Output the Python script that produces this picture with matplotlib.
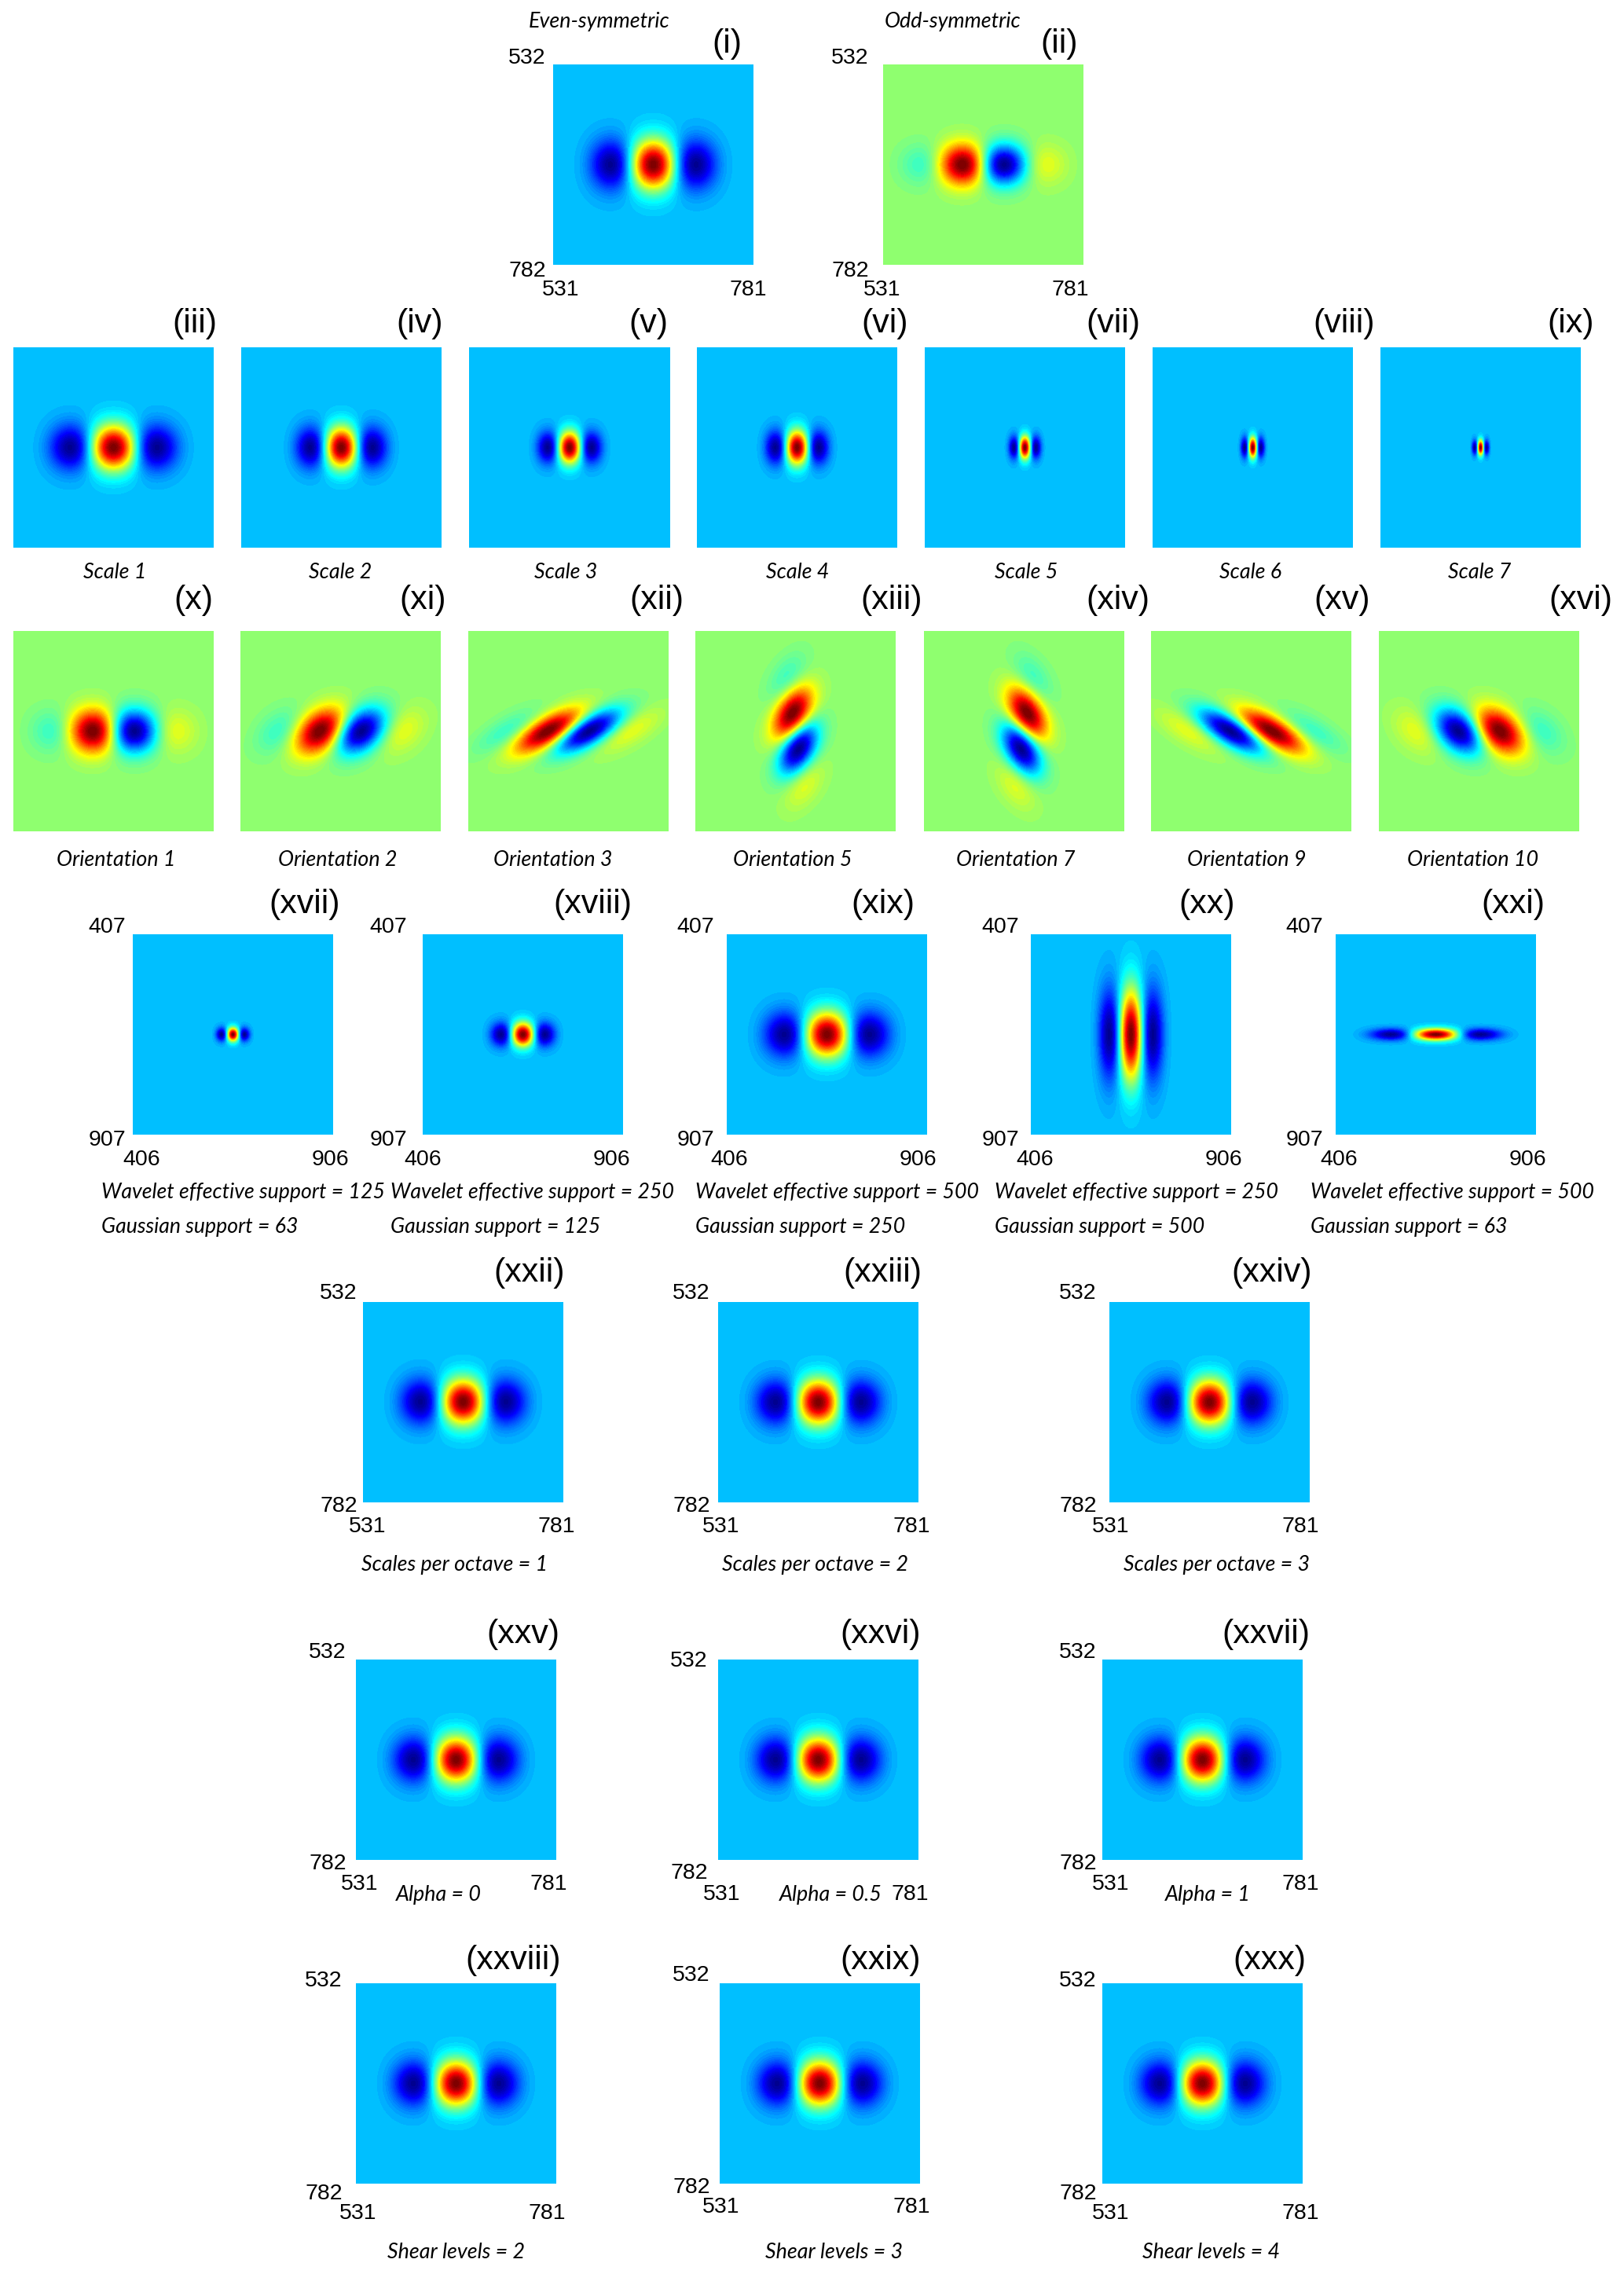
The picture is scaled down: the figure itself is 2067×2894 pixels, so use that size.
import numpy as np
import matplotlib
matplotlib.use('Agg')
import matplotlib.pyplot as plt
from matplotlib.colors import ListedColormap

W, H = 2067, 2894
SIZE = 255  # lado do painel em pixels

# -- valores, painel a painel --
panel_names = ['(i)', '(ii)', '(iii)', '(iv)', '(v)', '(vi)', '(vii)', '(viii)', '(ix)',
               '(x)', '(xi)', '(xii)', '(xiii)', '(xiv)', '(xv)', '(xvi)',
               '(xvii)', '(xviii)', '(xix)', '(xx)', '(xxi)',
               '(xxii)', '(xxiii)', '(xxiv)', '(xxv)', '(xxvi)', '(xxvii)',
               '(xxviii)', '(xxix)', '(xxx)']

# tipo: e = par, o = impar
kinds = ['e', 'o'] + ['e'] * 7 + ['o'] * 7 + ['e'] * 14
# periodo da onda nos paineis impares (pixels do painel)
periods = [0, 130, 0, 0, 0, 0, 0, 0, 0,
           130, 130, 130, 130, 130, 130, 130,
           0, 0, 0, 0, 0, 0, 0, 0, 0, 0, 0, 0, 0, 0]
# largura na direcao da onda (nos pares: distancia do centro ao zero)
sig_u = [32.5, 44, 33, 23.7, 16.7, 16.5, 8.4, 6.2, 4.5,
         44, 44, 44, 40, 40, 44, 44,
         8.7, 16.7, 32.5, 16.7, 34,
         32.5, 32.5, 32.5, 32.5, 32.5, 32.5, 32.5, 32.5, 32.5]
# largura na outra direcao
sig_v = [22, 18, 20, 18, 14, 15, 10, 9, 6.5,
         19, 20, 19, 18, 18, 19, 20,
         6, 10.5, 20, 40, 5.2,
         20, 20, 20, 20, 20, 20, 20, 20, 20]
# inclinacao (shear), eixo da onda, sinal
shears = [0, 0, 0, 0, 0, 0, 0, 0, 0,
          0, 0.4, 1.05, 0.8, -0.8, -1.05, -0.4,
          0, 0, 0, 0, 0, 0, 0, 0, 0, 0, 0, 0, 0, 0]
axes_dir = ['x'] * 12 + ['y', 'y'] + ['x'] * 16
signs = [1, -1] + [1] * 7 + [-1, -1, -1, 1, 1, 1, 1] + [1] * 14

# canto superior esquerdo de cada painel
left = [704, 1124,
        17, 307, 597, 887, 1177, 1467, 1757,
        17, 306, 596, 885, 1176, 1465, 1755,
        169, 538, 925, 1312, 1700,
        462, 914, 1412,
        453, 914, 1403,
        453, 916, 1403]
top = [82] * 2 + [442] * 7 + [803] * 7 + [1189] * 5 + [1657] * 3 + [2112] * 3 + [2524] * 3

# legendas: texto e centro em pixels da figura
captions = [('Even-symmetric', 763, 28), ('Odd-symmetric', 1213, 28),
            ('Scale 1', 146, 728), ('Scale 2', 433, 728), ('Scale 3', 720, 728),
            ('Scale 4', 1015, 728), ('Scale 5', 1306, 728), ('Scale 6', 1592, 728),
            ('Scale 7', 1883, 728),
            ('Orientation 1', 148, 1095), ('Orientation 2', 430, 1095),
            ('Orientation 3', 704, 1095), ('Orientation 5', 1009, 1095),
            ('Orientation 7', 1293, 1095), ('Orientation 9', 1587, 1095),
            ('Orientation 10', 1875, 1095),
            ('Scales per octave = 1', 579, 1992), ('Scales per octave = 2', 1038, 1992),
            ('Scales per octave = 3', 1549, 1992),
            ('Alpha = 0', 558, 2411), ('Alpha = 0.5', 1057, 2411), ('Alpha = 1', 1537, 2411),
            ('Shear levels = 2', 581, 2867), ('Shear levels = 3', 1062, 2867),
            ('Shear levels = 4', 1542, 2867)]
captions_left = [('Wavelet effective support = 125', 129, 1518), ('Gaussian support = 63', 129, 1562),
                 ('Wavelet effective support = 250', 497, 1518), ('Gaussian support = 125', 497, 1562),
                 ('Wavelet effective support = 500', 885, 1518), ('Gaussian support = 250', 885, 1562),
                 ('Wavelet effective support = 250', 1266, 1518), ('Gaussian support = 500', 1266, 1562),
                 ('Wavelet effective support = 500', 1668, 1518), ('Gaussian support = 63', 1668, 1562)]

# numeros dos cantos: (texto, x, y) em pixels
corner_labels = [
    ('532', 671, 74), ('782', 671, 345), ('531', 714, 369), ('781', 952, 369),
    ('532', 1082, 74), ('782', 1082, 345), ('531', 1123, 369), ('781', 1362, 369),
    ('407', 136, 1180), ('907', 136, 1451), ('406', 180, 1476), ('906', 420, 1476),
    ('407', 494, 1180), ('907', 494, 1451), ('406', 538, 1476), ('906', 778, 1476),
    ('407', 885, 1180), ('907', 885, 1451), ('406', 928, 1476), ('906', 1168, 1476),
    ('407', 1273, 1180), ('907', 1273, 1451), ('406', 1317, 1476), ('906', 1557, 1476),
    ('407', 1660, 1180), ('907', 1660, 1451), ('406', 1704, 1476), ('906', 1944, 1476),
    ('532', 431, 1646), ('782', 431, 1917), ('531', 468, 1943), ('781', 708, 1943),
    ('532', 880, 1646), ('782', 880, 1917), ('531', 918, 1943), ('781', 1160, 1943),
    ('532', 1372, 1646), ('782', 1372, 1917), ('531', 1414, 1943), ('781', 1655, 1943),
    ('532', 417, 2103), ('782', 417, 2372), ('531', 458, 2398), ('781', 698, 2398),
    ('532', 877, 2114), ('782', 877, 2384), ('531', 919, 2411), ('781', 1158, 2411),
    ('532', 1372, 2103), ('782', 1372, 2372), ('531', 1414, 2398), ('781', 1655, 2398),
    ('532', 412, 2521), ('782', 412, 2792), ('531', 456, 2817), ('781', 696, 2817),
    ('532', 880, 2514), ('782', 880, 2784), ('531', 918, 2809), ('781', 1160, 2809),
    ('532', 1372, 2521), ('782', 1372, 2792), ('531', 1414, 2817), ('781', 1655, 2817),
]

# nomes (i), (ii)...: lado direito e centro em y, em pixels
name_right = [944, 1372, 276, 564, 850, 1156, 1451, 1750, 2029,
              271, 568, 870, 1174, 1463, 1744, 2052,
              433, 804, 1164, 1572, 1966,
              719, 1173, 1670,
              712, 1172, 1667,
              714, 1172, 1662]
name_y = [56] * 2 + [412] * 7 + [764] * 7 + [1151] * 5 + [1620] * 3 + [2080] * 3 + [2495] * 3


# jet de 64 cores como no MATLAB
def matlab_jet(n=64):
    m = n // 4
    ramp = np.concatenate([np.arange(1, m + 1) / m, np.ones(m - 1), np.arange(m, 0, -1) / m])
    g = np.zeros(n)
    r = np.zeros(n)
    b = np.zeros(n)
    start = n // 8 + 1
    for idx, val in enumerate(ramp):
        if start + idx - 1 < n:
            g[start + idx - 1] = val
        if start + m + idx - 1 < n:
            r[start + m + idx - 1] = val
        if start - m + idx - 1 >= 0:
            b[start - m + idx - 1] = val
    return ListedColormap(np.column_stack([r, g, b]))


jet64 = matlab_jet()


def wavelet(kind, period, su, sv, shear, direction, sign):
    c = np.arange(SIZE) - (SIZE - 1) / 2
    x, y = np.meshgrid(c, -c)
    if direction == 'x':
        u, v = x - shear * y, y
        env_u = u
    else:
        u, v = y - shear * x, x
        env_u = y  # envelope fica na vertical nestes paineis
    if kind == 'e':
        # chapeu mexicano em u, gaussiana em v, cauda um pouco mais curta
        z = (1 - u**2 / su**2) * np.exp(-u**2 / (2 * su**2) - v**2 / (2 * sv**2))
        z = z * np.exp(-(u / (2.8 * su))**6)
    else:
        env = np.exp(-env_u**2 / (2 * su**2) - v**2 / (2 * sv**2))
        z = sign * env * np.sin(2 * np.pi * u / period)
    return z / np.abs(z).max()


fig = plt.figure(figsize=(W / 100, H / 100), dpi=100, facecolor='white')

for i in range(len(panel_names)):
    ax = fig.add_axes([left[i] / W, 1 - (top[i] + SIZE) / H, SIZE / W, SIZE / H])
    z = wavelet(kinds[i], periods[i], sig_u[i], sig_v[i], shears[i], axes_dir[i], signs[i])
    if kinds[i] == 'e':
        ax.imshow(z, cmap=jet64, vmin=-0.4382, vmax=1, interpolation='bilinear')
    else:
        ax.imshow(z, cmap=jet64, vmin=-1.016, vmax=0.984, interpolation='bilinear')
    ax.axis('off')
    fig.text(name_right[i] / W, 1 - name_y[i] / H, panel_names[i], ha='right', va='center',
             fontsize=31, family='Liberation Sans')

for txt, px, py in corner_labels:
    fig.text(px / W, 1 - py / H, txt, ha='center', va='center', fontsize=20.5,
             family='Liberation Sans')

for txt, px, py in captions:
    fig.text(px / W, 1 - py / H, txt, ha='center', va='center', fontsize=19.4,
             family='Lato', style='italic')

for txt, px, py in captions_left:
    fig.text(px / W, 1 - py / H, txt, ha='left', va='center', fontsize=19.2,
             family='Lato', style='italic')

fig.savefig('out.png', dpi=100)
